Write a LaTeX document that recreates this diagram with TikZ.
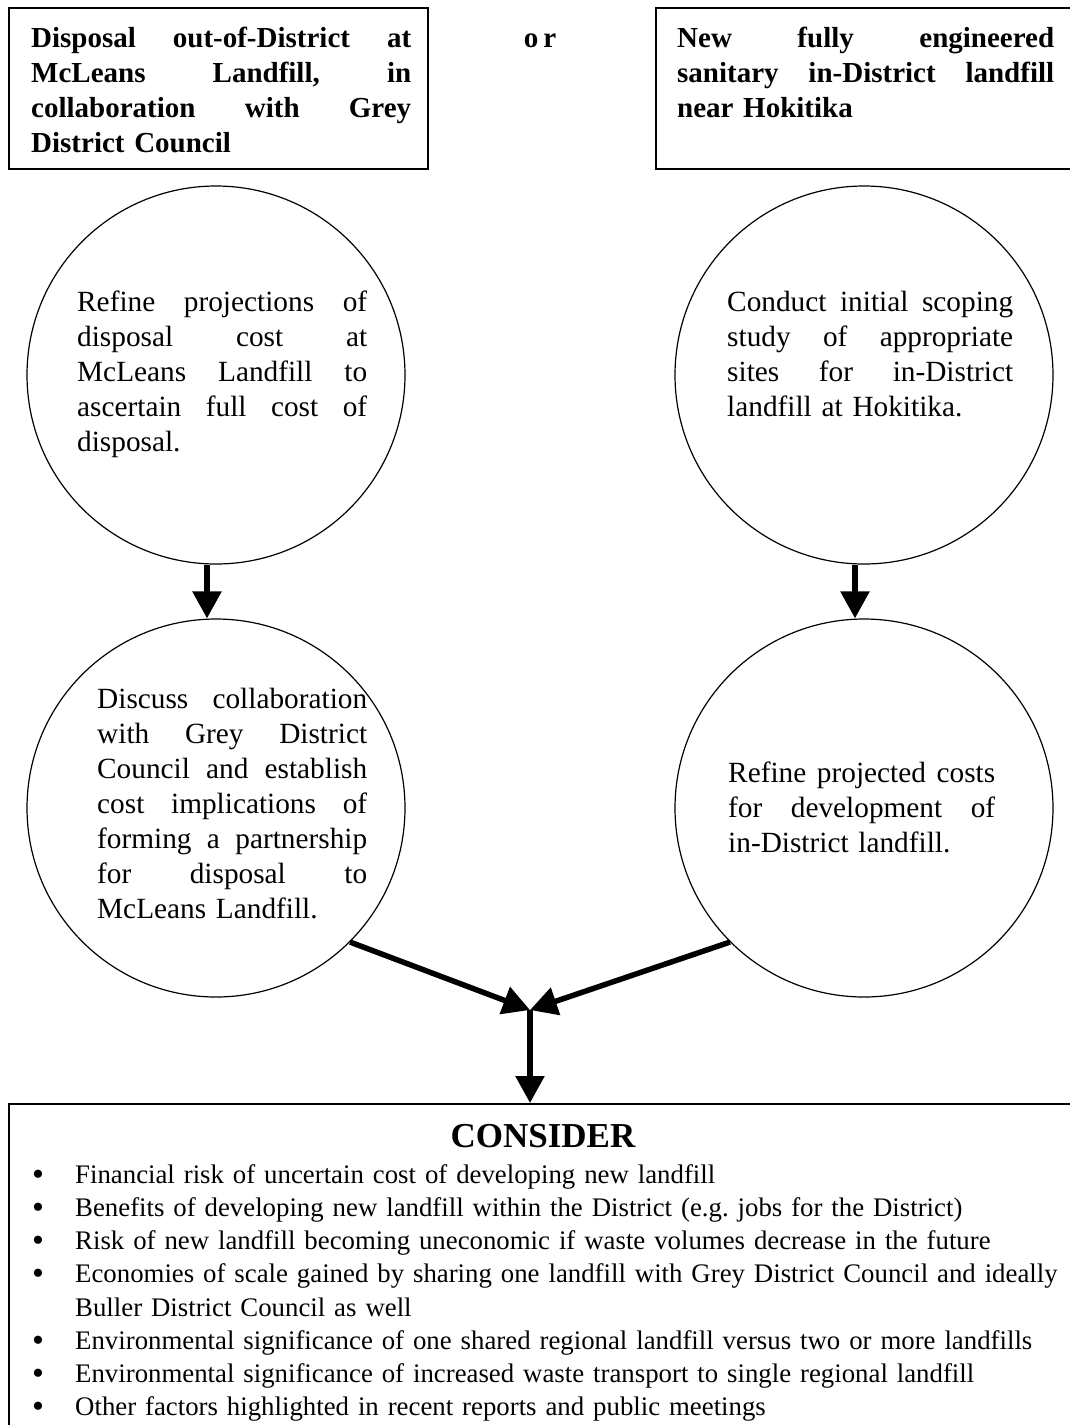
\documentclass[tikz,border=0pt]{standalone}
\usepackage{fontspec}
\setmainfont{Liberation Serif}
\usetikzlibrary{arrows.meta}
\newcommand\jl[2]{\leavevmode\hbox to #1{#2}}
\newcommand\bl{\makebox[56pt][l]{\hspace{13pt}\raisebox{-2pt}{\fontsize{34}{34}\selectfont\textbullet}}}
\tikzset{
  frame/.style={draw, line width=2pt, inner sep=0pt, anchor=north west},
  bubble/.style={draw, circle, line width=1.2pt, minimum size=378pt, inner sep=0pt},
  bodytext/.style={inner sep=0pt, anchor=north west, align=left, font=\fontsize{29.3}{35}\selectfont},
  headtext/.style={inner sep=0pt, anchor=north west, align=left, font=\bfseries\fontsize{29}{35}\selectfont},
  flow/.style={line width=5.5pt, -{Triangle[width=28pt,length=27pt]}},
}
\begin{document}
\begin{tikzpicture}[x=1pt,y=-1pt]
\useasboundingbox (0,0) rectangle (1070,1425);
% top boxes
\node[frame, minimum width=419pt, minimum height=161pt] (b1) at (8,7) {};
\node[frame, minimum width=460pt, minimum height=161pt] (b2) at (655,7) {};
\node[headtext, text width=380pt] (t1) at (31,22.5) {%
\jl{380pt}{\strut Disposal\hfill out-of-District\hfill at}\\
\jl{380pt}{McLeans\hfill Landfill,\hfill in}\\
\jl{380pt}{collaboration\hfill with\hfill Grey}\\
District Council};
\node[headtext, text width=377pt] (t2) at (677,22.5) {%
\jl{377pt}{\strut New\hfill fully\hfill engineered}\\
\jl{377pt}{sanitary\hfill in-District\hfill landfill}\\
near Hokitika};
\node[inner sep=0pt, anchor=base, font=\bfseries\fontsize{29}{35}\selectfont] (or) at (540,47) {o\hspace{5pt}r};
% circles
\node[bubble] (c1) at (216,375) {};
\node[bubble] (c2) at (864,375) {};
\node[bubble] (c3) at (216,808) {};
\node[bubble] (c4) at (864,808) {};
\node[bodytext, text width=290pt] (c1t) at (77,287.2) {%
\jl{290pt}{\strut Refine\hfill projections\hfill of}\\
\jl{290pt}{disposal\hfill cost\hfill at}\\
\jl{290pt}{McLeans\hfill Landfill\hfill to}\\
\jl{290pt}{ascertain\hfill full\hfill cost\hfill of}\\
disposal.};
\node[bodytext, text width=286pt] (c2t) at (727,287.2) {%
\jl{286pt}{\strut Conduct\hfill initial\hfill scoping}\\
\jl{286pt}{study\hfill of\hfill appropriate}\\
\jl{286pt}{sites\hfill for\hfill in-District}\\
landfill at Hokitika.};
\node[bodytext, text width=270pt] (c3t) at (97,683.5) {%
\jl{270pt}{\strut Discuss\hfill collaboration}\\
\jl{270pt}{with\hfill Grey\hfill District}\\
\jl{270pt}{Council\hfill and\hfill establish}\\
\jl{270pt}{cost\hfill implications\hfill of}\\
\jl{270pt}{forming\hfill a\hfill partnership}\\
\jl{270pt}{for\hfill disposal\hfill to}\\
McLeans Landfill.};
\node[bodytext, text width=267pt] (c4t) at (728,757.5) {%
\jl{267pt}{\strut Refine\hfill projected\hfill costs}\\
\jl{267pt}{for\hfill development\hfill of}\\
in-District landfill.};
% bottom box
\node[frame, minimum width=1090pt, minimum height=360pt] (bx) at (8,1103) {};
\node[inner sep=0pt, anchor=base, font=\bfseries\fontsize{35}{40}\selectfont] (cons) at (543,1147) {CONSIDER};
\node[inner sep=0pt, anchor=north west, align=left, text width=1060pt, font=\fontsize{26.8}{33.2}\selectfont] (list) at (19,1159.8) {%
\bl\strut Financial risk of uncertain cost of developing new landfill\\
\bl Benefits of developing new landfill within the District (e.g.\ jobs for the District)\\
\bl Risk of new landfill becoming uneconomic if waste volumes decrease in the future\\
\bl Economies of scale gained by sharing one landfill with Grey District Council and ideally\\
\hspace*{56pt}Buller District Council as well\\
\bl Environmental significance of one shared regional landfill versus two or more landfills\\
\bl Environmental significance of increased waste transport to single regional landfill\\
\bl Other factors highlighted in recent reports and public meetings};
% arrows
\coordinate (m) at (530,1010);
\draw[flow] ([xshift=-9pt]c1.south) -- ([xshift=-9pt]c3.north);
\draw[flow] ([xshift=-9pt]c2.south) -- ([xshift=-9pt]c4.north);
\draw[flow] (c3.-45) -- (m);
\draw[flow] (c4.-135) -- (m);
\draw[flow] (m) -- (m |- bx.north);
\end{tikzpicture}
\end{document}
